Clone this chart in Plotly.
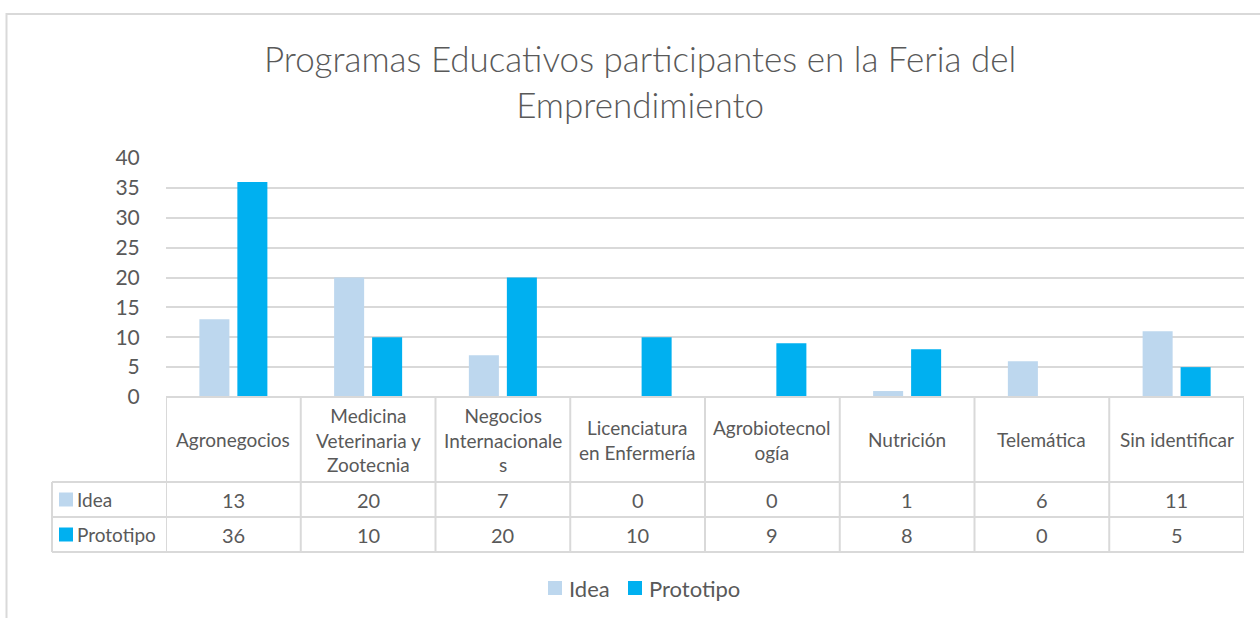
import plotly.graph_objects as go

# ---------------- data ----------------
categories = ["Agronegocios", "Medicina Veterinaria y Zootecnia", "Negocios Internacionales",
              "Licenciatura en Enfermería", "Agrobiotecnología", "Nutrición", "Telemática",
              "Sin identificar"]
category_labels = ["Agronegocios", "Medicina<br>Veterinaria y<br>Zootecnia",
                   "Negocios<br>Internacionale<br>s", "Licenciatura<br>en Enfermería",
                   "Agrobiotecnol<br>ogía", "Nutrición", "Telemática", "Sin identificar"]
series_names = ["Idea", "Prototipo"]
idea = [13, 20, 7, 0, 0, 1, 6, 11]
prototipo = [36, 10, 20, 10, 9, 8, 0, 5]
y_ticks = [0, 5, 10, 15, 20, 25, 30, 35, 40]
title_text = "Programas Educativos participantes en la Feria del<br>Emprendimiento"

# ---------------- style ----------------
W, H = 1260, 618
colors = ["#BDD7EE", "#00B0F0"]
grid = "#D9D9D9"
txt = "#595959"
FONT = "Lato"

def px(x):
    return x / W

def py(y):
    return 1 - y / H

plot_l, plot_r = 166, 1244
plot_top, plot_bot = 158, 397
row1, row2, row3 = 482, 517, 552
lab_l = 52

x = list(range(len(categories)))
fig = go.Figure()
for name, vals, c in zip(series_names, [idea, prototipo], colors):
    fig.add_trace(go.Bar(x=x, y=vals, name=name, marker=dict(color=c, line=dict(width=0)),
                         hoverinfo="skip", showlegend=False))

shapes = []
line = dict(color=grid, width=2)
# outer chart border
shapes.append(dict(type="rect", xref="paper", yref="paper", x0=px(6.5), x1=px(1275),
                   y0=py(640), y1=py(14), line=line, layer="below"))
# horizontal table lines
shapes.append(dict(type="line", xref="paper", yref="paper", x0=px(plot_l), x1=px(plot_r),
                   y0=py(plot_bot), y1=py(plot_bot), line=line))
for yy in (row1, row2, row3):
    shapes.append(dict(type="line", xref="paper", yref="paper", x0=px(lab_l), x1=px(plot_r),
                       y0=py(yy), y1=py(yy), line=line))
# vertical table lines at category boundaries
for i in range(len(categories) + 1):
    shapes.append(dict(type="line", xref="x", yref="paper", x0=i - 0.5, x1=i - 0.5,
                       y0=py(plot_bot), y1=py(row3), line=line))
shapes.append(dict(type="line", xref="paper", yref="paper", x0=px(lab_l), x1=px(lab_l),
                   y0=py(row1), y1=py(row3), line=line))
# legend keys in table rows
for (y0, y1), c in zip([(row1, row2), (row2, row3)], colors):
    cy = (y0 + y1) / 2
    shapes.append(dict(type="rect", xref="paper", yref="paper", x0=px(59), x1=px(73),
                       y0=py(cy + 7), y1=py(cy - 7), fillcolor=c, line=dict(width=0)))

TS = 20
annotations = []
for i, lab in enumerate(category_labels):
    annotations.append(dict(x=i, y=py((plot_bot + row1) / 2), xref="x", yref="paper",
                            text=lab, showarrow=False, font=dict(family=FONT, size=TS - 1, color=txt),
                            align="center", xanchor="center", yanchor="middle"))
for (y0, y1), name, vals in zip([(row1, row2), (row2, row3)], series_names, [idea, prototipo]):
    cy = (y0 + y1) / 2
    annotations.append(dict(x=px(75), y=py(cy), xref="paper", yref="paper", text=name,
                            showarrow=False, xanchor="left", yanchor="middle",
                            font=dict(family=FONT, size=TS - 1, color=txt)))
    for i, v in enumerate(vals):
        annotations.append(dict(x=i, y=py(cy), xref="x", yref="paper", text=str(v),
                                showarrow=False, xanchor="center", yanchor="middle",
                                font=dict(family=FONT, size=TS, color=txt)))

# bottom legend (drawn manually)
leg_y = 588
leg_items = [(548, series_names[0], colors[0]), (628, series_names[1], colors[1])]
for lx, name, c in leg_items:
    shapes.append(dict(type="rect", xref="paper", yref="paper", x0=px(lx), x1=px(lx + 14),
                       y0=py(leg_y + 7), y1=py(leg_y - 7), fillcolor=c, line=dict(width=0)))
    annotations.append(dict(x=px(lx + 19), y=py(leg_y), xref="paper", yref="paper", text=name,
                            showarrow=False, xanchor="left", yanchor="middle",
                            font=dict(family=FONT, size=22, color=txt)))

fig.update_layout(
    template="none",
    width=W, height=H,
    margin=dict(l=0, r=0, t=0, b=0, autoexpand=False),
    paper_bgcolor="white", plot_bgcolor="white",
    title=dict(text=title_text, x=0.508, xanchor="center", y=py(72), yanchor="middle",
               font=dict(family=FONT, size=35, color=txt, weight=300)),
    barmode="group", bargap=0.436, bargroupgap=0.21,
    showlegend=False,
    xaxis=dict(domain=[px(plot_l), px(plot_r)], range=[-0.5, len(categories) - 0.5],
               showticklabels=False, showgrid=False, zeroline=False, showline=False,
               ticks="", fixedrange=True, automargin=False),
    yaxis=dict(domain=[py(plot_bot), py(plot_top)], range=[0, 40], tickvals=y_ticks,
               showgrid=True, gridcolor=grid, gridwidth=2, zeroline=False, showline=False,
               ticks="outside", ticklen=21, tickcolor="rgba(0,0,0,0)", automargin=False,
               tickfont=dict(family=FONT, size=21, color=txt), fixedrange=True),
    shapes=shapes, annotations=annotations,
)

fig.write_html("out.html", config={"displayModeBar": False},
               post_script="document.body.style.margin='0';")
